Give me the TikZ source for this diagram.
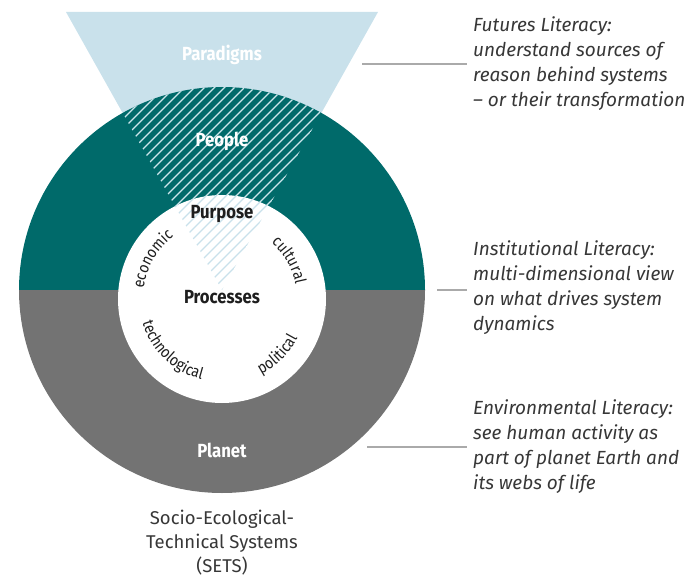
\documentclass[tikz,border=0pt]{standalone}
\usepackage{fontspec}
\setmainfont{Fira Sans}
\newfontfamily\condfont[FakeStretch=0.88]{Fira Sans}
\usetikzlibrary{decorations.text}
\definecolor{tealc}{RGB}{0,106,106}
\definecolor{grayc}{RGB}{115,115,115}
\definecolor{lblue}{RGB}{201,225,235}
\definecolor{hatchw}{RGB}{205,230,236}
\definecolor{linec}{RGB}{170,170,170}
\definecolor{txtc}{RGB}{55,55,55}
\definecolor{darkc}{RGB}{30,30,30}
\begin{document}
\begin{tikzpicture}[x=1pt,y=1pt,
  bigl/.style={font=\condfont\bfseries\fontsize{19}{19}\selectfont, anchor=base, inner sep=0pt},
  side/.style={font=\itshape\fontsize{19}{25}\selectfont, text=txtc, align=left, anchor=base west, inner sep=0pt},
  leader/.style={draw=linec, line width=2pt},
  hatchline/.style={line width=1.2pt},
  arclabel/.style={decorate, decoration={text along path, text align=center, text={|\condfont\fontsize{16}{16}\selectfont\color{darkc}|#1}}}]
\useasboundingbox (0,0) rectangle (687,579);
\coordinate (O) at (222,289);
\coordinate (I) at (222,280);
\coordinate (TL) at (66,567);
\coordinate (TR) at (378,567);
\coordinate (A) at (222,289);
% paradigm funnel
\fill[lblue] (TL) -- (TR) -- (A) -- cycle;
% outer disc halves
\fill[tealc] ([xshift=-203pt]O) arc[start angle=180,end angle=0,radius=203] -- cycle;
\fill[grayc] ([xshift=-203pt]O) arc[start angle=180,end angle=360,radius=203] -- cycle;
% hatch in teal
\begin{scope}
  \clip (TL) -- (TR) -- (A) -- cycle;
  \clip (O) circle[radius=203];
  \foreach \k in {-45,...,45} \draw[hatchw,hatchline] ({222+10*\k-300},-11) -- ++(600,600);
\end{scope}
% inner white disc
\fill[white] (I) circle[radius=104];
\begin{scope}
  \clip (TL) -- (TR) -- (A) -- cycle;
  \clip (I) circle[radius=104];
  \foreach \k in {-45,...,45} \draw[lblue,hatchline] ({222+10*\k-300},-11) -- ++(600,600);
\end{scope}
% circle labels
\node[bigl, text=white] (par) at (222,518) {Paradigms};
\node[bigl, text=white] (peo) at (222,432) {People};
\node[bigl, text=darkc] (pur) at (222,360) {Purpose};
\node[bigl, text=darkc] (pro) at (222,276) {Processes};
\node[bigl, text=white] (pla) at (222,122) {Planet};
% curved labels
\path[arclabel=economic] ([shift={(174:79)}]I) arc[start angle=174,end angle=126,radius=79];
\path[arclabel=cultural] ([shift={(54:75)}]I) arc[start angle=54,end angle=6,radius=75];
\path[arclabel=technological] ([shift={(192:83)}]I) arc[start angle=192,end angle=260,radius=83];
\path[arclabel=political] ([shift={(288:85)}]I) arc[start angle=288,end angle=342,radius=85];
% bottom caption (base anchor = last line)
\node[font=\fontsize{18.5}{24}\selectfont, text=txtc, align=center, anchor=base, inner sep=0pt] (sets) at (222,7) {Socio-Ecological-\\Technical Systems\\(SETS)};
% right texts (base anchor = last line)
\node[side] (fut) at (473,472) {Futures Literacy:\\understand sources of\\reason behind systems\\– or their transformation};
\node[side] (ins) at (473,249) {Institutional Literacy:\\multi-dimensional view\\on what drives system\\dynamics};
\node[side] (env) at (473,90) {Environmental Literacy:\\see human activity as\\part of planet Earth and\\its webs of life};
% leaders
\coordinate (l1s) at (362,515); \coordinate (l1e) at (467,515);
\coordinate (l2s) at (437,289); \coordinate (l2e) at (467,289);
\coordinate (l3s) at (367,132); \coordinate (l3e) at (467,132);
\draw[leader] (l1s) -- (l1e);
\draw[leader] (l2s) -- (l2e);
\draw[leader] (l3s) -- (l3e);
\end{tikzpicture}
\end{document}
